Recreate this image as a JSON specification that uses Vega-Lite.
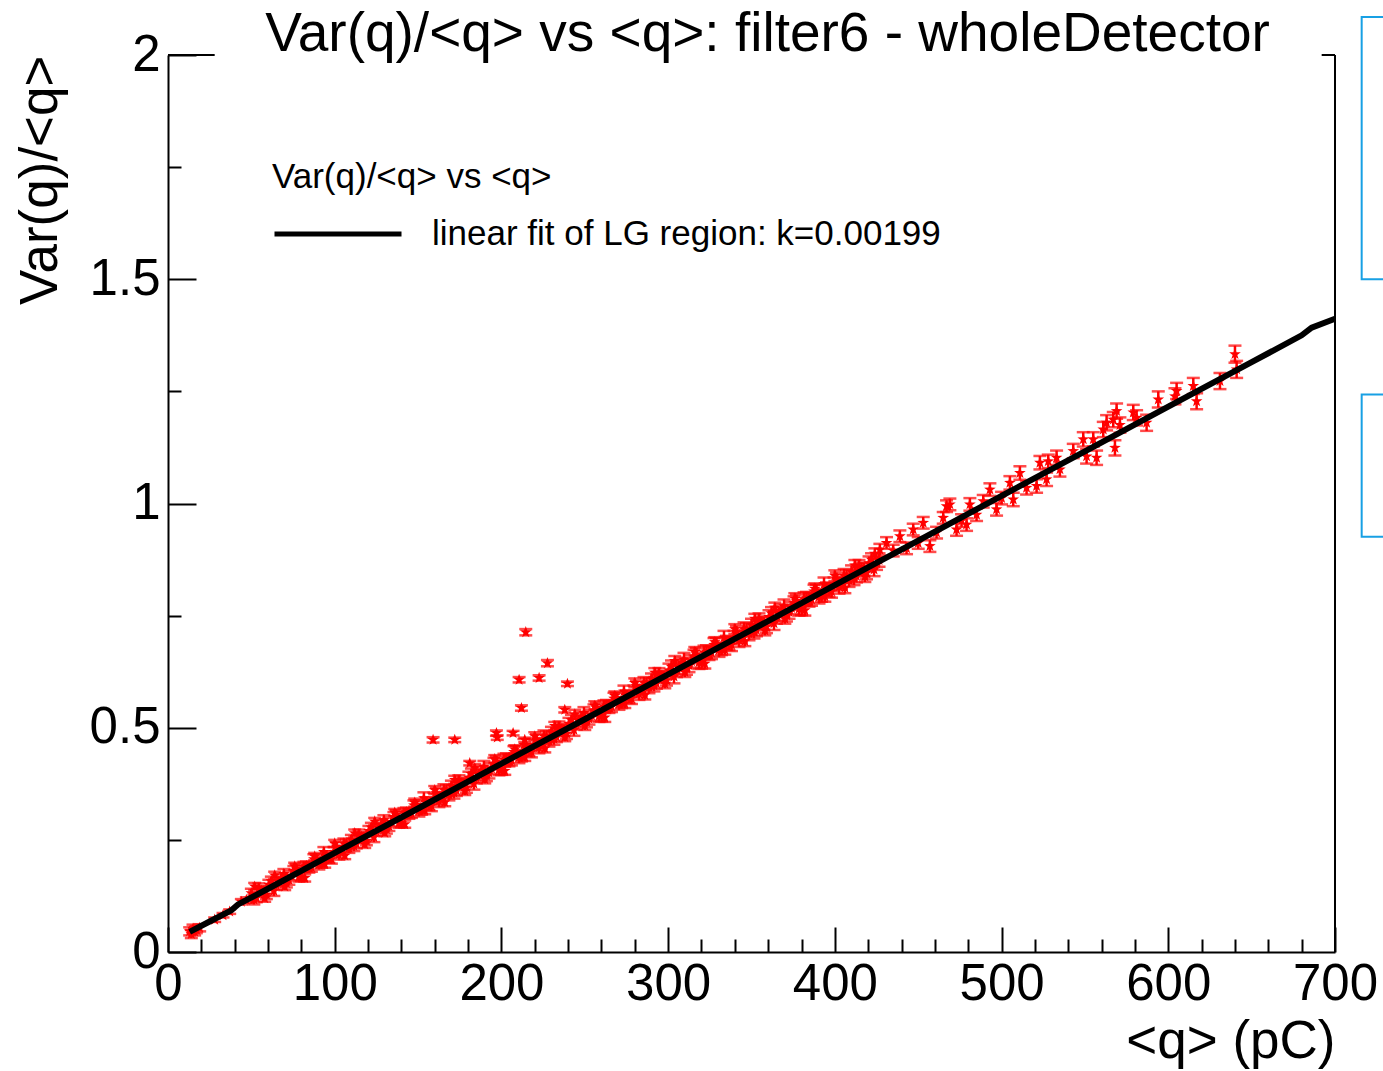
{
  "$schema": "https://vega.github.io/schema/vega-lite/v6.json",
  "width": 1167,
  "height": 897,
  "autosize": {"type": "none"},
  "padding": {"left": 168, "top": 55, "right": 48, "bottom": 119},
  "background": "white",
  "config": {"view": {"stroke": null}, "font": "Liberation Sans"},
  "title": {"text": "Var(q)/<q> vs <q>: filter6 - wholeDetector", "frame": "group", "fontSize": 55, "fontWeight": "normal", "color": "black", "anchor": "middle", "dx": 16, "baseline": "alphabetic", "offset": -90},
  "resolve": {"axis": {"x": "independent", "y": "independent"}},
  "datasets": {
    "pts": [
      {"q":13,"v":0.046,"e":0.009},{"q":14,"v":0.040,"e":0.009},{"q":15,"v":0.052,"e":0.009},{"q":16,"v":0.045,"e":0.008},{"q":17,"v":0.050,"e":0.008},{"q":19,"v":0.054,"e":0.008},
      {"q":28,"v":0.072,"e":0.005},{"q":33,"v":0.082,"e":0.005},{"q":37,"v":0.090,"e":0.005},{"q":44,"v":0.112,"e":0.006},{"q":47,"v":0.116,"e":0.006},
      {"q":50,"v":0.131,"e":0.010},{"q":53,"v":0.121,"e":0.010},{"q":56,"v":0.137,"e":0.010},{"q":59,"v":0.128,"e":0.010},{"q":62,"v":0.158,"e":0.010},{"q":65,"v":0.149,"e":0.010},{"q":68,"v":0.164,"e":0.010},{"q":71,"v":0.154,"e":0.010},{"q":74,"v":0.170,"e":0.010},{"q":77,"v":0.186,"e":0.010},{"q":80,"v":0.168,"e":0.010},{"q":83,"v":0.192,"e":0.010},{"q":86,"v":0.189,"e":0.010},{"q":89,"v":0.208,"e":0.010},{"q":92,"v":0.198,"e":0.010},{"q":95,"v":0.213,"e":0.010},{"q":98,"v":0.207,"e":0.010},
      {"q":101,"v":0.235,"e":0.010},{"q":104,"v":0.226,"e":0.010},{"q":107,"v":0.241,"e":0.010},{"q":110,"v":0.251,"e":0.010},{"q":113,"v":0.241,"e":0.010},{"q":116,"v":0.257,"e":0.010},{"q":119,"v":0.248,"e":0.010},{"q":122,"v":0.278,"e":0.010},{"q":125,"v":0.269,"e":0.010},{"q":128,"v":0.284,"e":0.010},{"q":131,"v":0.274,"e":0.010},{"q":134,"v":0.290,"e":0.010},{"q":137,"v":0.306,"e":0.010},{"q":140,"v":0.288,"e":0.010},{"q":143,"v":0.312,"e":0.010},{"q":146,"v":0.309,"e":0.010},{"q":149,"v":0.328,"e":0.010},
      {"q":152,"v":0.318,"e":0.012},{"q":155,"v":0.333,"e":0.012},{"q":158,"v":0.326,"e":0.012},{"q":161,"v":0.354,"e":0.012},{"q":164,"v":0.345,"e":0.012},{"q":167,"v":0.360,"e":0.012},{"q":170,"v":0.370,"e":0.012},{"q":173,"v":0.360,"e":0.012},{"q":176,"v":0.376,"e":0.012},{"q":179,"v":0.367,"e":0.012},{"q":182,"v":0.397,"e":0.012},{"q":185,"v":0.388,"e":0.012},{"q":188,"v":0.403,"e":0.012},{"q":191,"v":0.393,"e":0.012},{"q":194,"v":0.409,"e":0.012},{"q":197,"v":0.425,"e":0.012},{"q":200,"v":0.407,"e":0.012},
      {"q":203,"v":0.431,"e":0.012},{"q":206,"v":0.428,"e":0.012},{"q":209,"v":0.447,"e":0.012},{"q":212,"v":0.437,"e":0.012},{"q":215,"v":0.452,"e":0.012},{"q":218,"v":0.446,"e":0.012},{"q":221,"v":0.474,"e":0.012},{"q":224,"v":0.465,"e":0.012},{"q":227,"v":0.480,"e":0.012},{"q":230,"v":0.490,"e":0.012},{"q":233,"v":0.480,"e":0.012},{"q":236,"v":0.496,"e":0.012},{"q":239,"v":0.487,"e":0.012},{"q":242,"v":0.517,"e":0.012},{"q":245,"v":0.508,"e":0.012},{"q":248,"v":0.523,"e":0.012},
      {"q":251,"v":0.513,"e":0.012},{"q":254,"v":0.528,"e":0.012},{"q":257,"v":0.544,"e":0.012},{"q":260,"v":0.526,"e":0.012},{"q":263,"v":0.550,"e":0.012},{"q":266,"v":0.547,"e":0.012},{"q":269,"v":0.566,"e":0.012},{"q":272,"v":0.556,"e":0.012},{"q":275,"v":0.571,"e":0.012},{"q":278,"v":0.565,"e":0.012},{"q":281,"v":0.593,"e":0.012},{"q":284,"v":0.584,"e":0.012},{"q":287,"v":0.599,"e":0.012},{"q":290,"v":0.609,"e":0.012},{"q":293,"v":0.599,"e":0.012},{"q":296,"v":0.615,"e":0.012},{"q":299,"v":0.606,"e":0.012},
      {"q":302,"v":0.636,"e":0.014},{"q":305,"v":0.627,"e":0.014},{"q":308,"v":0.642,"e":0.014},{"q":311,"v":0.632,"e":0.014},{"q":314,"v":0.648,"e":0.014},{"q":317,"v":0.664,"e":0.014},{"q":320,"v":0.646,"e":0.014},{"q":323,"v":0.670,"e":0.014},{"q":326,"v":0.667,"e":0.014},{"q":329,"v":0.686,"e":0.014},{"q":332,"v":0.676,"e":0.014},{"q":335,"v":0.691,"e":0.014},{"q":338,"v":0.685,"e":0.014},{"q":341,"v":0.713,"e":0.014},{"q":344,"v":0.704,"e":0.014},{"q":347,"v":0.719,"e":0.014},{"q":350,"v":0.729,"e":0.014},
      {"q":353,"v":0.718,"e":0.014},{"q":356,"v":0.734,"e":0.014},{"q":359,"v":0.725,"e":0.014},{"q":362,"v":0.755,"e":0.014},{"q":365,"v":0.746,"e":0.014},{"q":368,"v":0.761,"e":0.014},{"q":371,"v":0.751,"e":0.014},{"q":374,"v":0.767,"e":0.014},{"q":377,"v":0.783,"e":0.014},{"q":380,"v":0.765,"e":0.014},{"q":383,"v":0.789,"e":0.014},{"q":386,"v":0.786,"e":0.014},{"q":389,"v":0.805,"e":0.014},{"q":392,"v":0.795,"e":0.014},{"q":395,"v":0.810,"e":0.014},{"q":398,"v":0.804,"e":0.014},
      {"q":401,"v":0.832,"e":0.014},{"q":404,"v":0.823,"e":0.014},{"q":407,"v":0.838,"e":0.014},{"q":410,"v":0.848,"e":0.014},{"q":413,"v":0.838,"e":0.014},{"q":416,"v":0.854,"e":0.014},{"q":419,"v":0.845,"e":0.014},{"q":422,"v":0.875,"e":0.014},{"q":425,"v":0.866,"e":0.014},
      {"q":51.5,"v":0.117,"e":0.011},{"q":54.5,"v":0.142,"e":0.011},{"q":57.5,"v":0.135,"e":0.011},{"q":60.5,"v":0.150,"e":0.011},{"q":63.5,"v":0.136,"e":0.011},{"q":66.5,"v":0.157,"e":0.011},{"q":69.5,"v":0.174,"e":0.011},{"q":72.5,"v":0.161,"e":0.011},{"q":75.5,"v":0.181,"e":0.011},{"q":78.5,"v":0.168,"e":0.011},{"q":81.5,"v":0.190,"e":0.011},{"q":84.5,"v":0.188,"e":0.011},{"q":87.5,"v":0.207,"e":0.011},{"q":90.5,"v":0.195,"e":0.011},{"q":93.5,"v":0.223,"e":0.011},{"q":96.5,"v":0.210,"e":0.011},{"q":99.5,"v":0.223,"e":0.011},
      {"q":102.5,"v":0.217,"e":0.011},{"q":105.5,"v":0.242,"e":0.011},{"q":108.5,"v":0.232,"e":0.011},{"q":111.5,"v":0.236,"e":0.011},{"q":114.5,"v":0.262,"e":0.011},{"q":117.5,"v":0.255,"e":0.011},{"q":120.5,"v":0.270,"e":0.011},{"q":123.5,"v":0.256,"e":0.011},{"q":126.5,"v":0.277,"e":0.011},{"q":129.5,"v":0.294,"e":0.011},{"q":132.5,"v":0.281,"e":0.011},{"q":135.5,"v":0.301,"e":0.011},{"q":138.5,"v":0.288,"e":0.011},{"q":141.5,"v":0.310,"e":0.011},{"q":144.5,"v":0.308,"e":0.011},{"q":147.5,"v":0.327,"e":0.011},
      {"q":150.5,"v":0.315,"e":0.013},{"q":153.5,"v":0.343,"e":0.013},{"q":156.5,"v":0.329,"e":0.013},{"q":159.5,"v":0.342,"e":0.013},{"q":162.5,"v":0.336,"e":0.013},{"q":165.5,"v":0.361,"e":0.013},{"q":168.5,"v":0.351,"e":0.013},{"q":171.5,"v":0.355,"e":0.013},{"q":174.5,"v":0.381,"e":0.013},{"q":177.5,"v":0.374,"e":0.013},{"q":180.5,"v":0.389,"e":0.013},{"q":183.5,"v":0.375,"e":0.013},{"q":186.5,"v":0.396,"e":0.013},{"q":189.5,"v":0.413,"e":0.013},{"q":192.5,"v":0.400,"e":0.013},{"q":195.5,"v":0.420,"e":0.013},{"q":198.5,"v":0.407,"e":0.013},
      {"q":201.5,"v":0.429,"e":0.013},{"q":204.5,"v":0.427,"e":0.013},{"q":207.5,"v":0.446,"e":0.013},{"q":210.5,"v":0.434,"e":0.013},{"q":213.5,"v":0.462,"e":0.013},{"q":216.5,"v":0.449,"e":0.013},{"q":219.5,"v":0.462,"e":0.013},{"q":222.5,"v":0.456,"e":0.013},{"q":225.5,"v":0.481,"e":0.013},{"q":228.5,"v":0.471,"e":0.013},{"q":231.5,"v":0.475,"e":0.013},{"q":234.5,"v":0.501,"e":0.013},{"q":237.5,"v":0.494,"e":0.013},{"q":240.5,"v":0.509,"e":0.013},{"q":243.5,"v":0.495,"e":0.013},{"q":246.5,"v":0.516,"e":0.013},{"q":249.5,"v":0.533,"e":0.013},
      {"q":252.5,"v":0.520,"e":0.013},{"q":255.5,"v":0.539,"e":0.013},{"q":258.5,"v":0.526,"e":0.013},{"q":261.5,"v":0.548,"e":0.013},{"q":264.5,"v":0.546,"e":0.013},{"q":267.5,"v":0.565,"e":0.013},{"q":270.5,"v":0.553,"e":0.013},{"q":273.5,"v":0.581,"e":0.013},{"q":276.5,"v":0.568,"e":0.013},{"q":279.5,"v":0.581,"e":0.013},{"q":282.5,"v":0.575,"e":0.013},{"q":285.5,"v":0.600,"e":0.013},{"q":288.5,"v":0.590,"e":0.013},{"q":291.5,"v":0.594,"e":0.013},{"q":294.5,"v":0.620,"e":0.013},{"q":297.5,"v":0.613,"e":0.013},
      {"q":300.5,"v":0.628,"e":0.015},{"q":303.5,"v":0.614,"e":0.015},{"q":306.5,"v":0.635,"e":0.015},{"q":309.5,"v":0.652,"e":0.015},{"q":312.5,"v":0.639,"e":0.015},{"q":315.5,"v":0.659,"e":0.015},{"q":318.5,"v":0.646,"e":0.015},{"q":321.5,"v":0.668,"e":0.015},{"q":324.5,"v":0.666,"e":0.015},{"q":327.5,"v":0.685,"e":0.015},{"q":330.5,"v":0.673,"e":0.015},{"q":333.5,"v":0.701,"e":0.015},{"q":336.5,"v":0.688,"e":0.015},{"q":339.5,"v":0.701,"e":0.015},{"q":342.5,"v":0.695,"e":0.015},{"q":345.5,"v":0.720,"e":0.015},{"q":348.5,"v":0.710,"e":0.015},
      {"q":351.5,"v":0.714,"e":0.015},{"q":354.5,"v":0.740,"e":0.015},{"q":357.5,"v":0.732,"e":0.015},{"q":360.5,"v":0.747,"e":0.015},{"q":363.5,"v":0.733,"e":0.015},{"q":366.5,"v":0.754,"e":0.015},{"q":369.5,"v":0.771,"e":0.015},{"q":372.5,"v":0.758,"e":0.015},{"q":375.5,"v":0.778,"e":0.015},{"q":378.5,"v":0.765,"e":0.015},{"q":381.5,"v":0.787,"e":0.015},{"q":384.5,"v":0.785,"e":0.015},{"q":387.5,"v":0.804,"e":0.015},{"q":390.5,"v":0.792,"e":0.015},{"q":393.5,"v":0.820,"e":0.015},{"q":396.5,"v":0.807,"e":0.015},{"q":399.5,"v":0.820,"e":0.015},
      {"q":402.5,"v":0.814,"e":0.015},{"q":405.5,"v":0.839,"e":0.015},{"q":408.5,"v":0.829,"e":0.015},{"q":411.5,"v":0.833,"e":0.015},{"q":414.5,"v":0.859,"e":0.015},{"q":417.5,"v":0.852,"e":0.015},{"q":420.5,"v":0.867,"e":0.015},{"q":423.5,"v":0.853,"e":0.015},{"q":426.5,"v":0.874,"e":0.015},
      {"q":52,"v":0.146,"e":0.008},{"q":58,"v":0.120,"e":0.008},{"q":64,"v":0.171,"e":0.008},{"q":70,"v":0.146,"e":0.008},{"q":76,"v":0.191,"e":0.008},{"q":82,"v":0.165,"e":0.008},{"q":88,"v":0.213,"e":0.008},{"q":94,"v":0.196,"e":0.008},{"q":100,"v":0.242,"e":0.008},{"q":106,"v":0.215,"e":0.008},{"q":112,"v":0.265,"e":0.008},{"q":118,"v":0.240,"e":0.008},{"q":124,"v":0.291,"e":0.008},{"q":130,"v":0.266,"e":0.008},{"q":136,"v":0.311,"e":0.008},{"q":142,"v":0.285,"e":0.008},
      {"q":148,"v":0.333,"e":0.009},{"q":154,"v":0.316,"e":0.009},{"q":160,"v":0.361,"e":0.009},{"q":166,"v":0.334,"e":0.009},{"q":172,"v":0.384,"e":0.009},{"q":178,"v":0.359,"e":0.009},{"q":184,"v":0.410,"e":0.009},{"q":190,"v":0.385,"e":0.009},{"q":196,"v":0.430,"e":0.009},{"q":202,"v":0.404,"e":0.009},{"q":208,"v":0.452,"e":0.009},{"q":214,"v":0.435,"e":0.009},{"q":220,"v":0.481,"e":0.009},{"q":226,"v":0.454,"e":0.009},{"q":232,"v":0.504,"e":0.009},{"q":238,"v":0.479,"e":0.009},
      {"q":244,"v":0.530,"e":0.010},{"q":250,"v":0.505,"e":0.010},{"q":256,"v":0.549,"e":0.010},{"q":262,"v":0.523,"e":0.010},{"q":268,"v":0.571,"e":0.010},{"q":274,"v":0.554,"e":0.010},{"q":280,"v":0.600,"e":0.010},{"q":286,"v":0.573,"e":0.010},{"q":292,"v":0.623,"e":0.010},{"q":298,"v":0.598,"e":0.010},{"q":304,"v":0.649,"e":0.011},{"q":310,"v":0.624,"e":0.011},{"q":316,"v":0.669,"e":0.011},{"q":322,"v":0.643,"e":0.011},{"q":328,"v":0.691,"e":0.011},{"q":334,"v":0.674,"e":0.011},
      {"q":340,"v":0.720,"e":0.011},{"q":346,"v":0.693,"e":0.011},{"q":352,"v":0.743,"e":0.011},{"q":358,"v":0.717,"e":0.011},{"q":364,"v":0.768,"e":0.011},{"q":370,"v":0.743,"e":0.011},{"q":376,"v":0.788,"e":0.012},{"q":382,"v":0.762,"e":0.012},{"q":388,"v":0.810,"e":0.012},{"q":394,"v":0.793,"e":0.012},{"q":400,"v":0.839,"e":0.012},{"q":406,"v":0.812,"e":0.012},{"q":412,"v":0.862,"e":0.012},{"q":418,"v":0.837,"e":0.012},{"q":424,"v":0.888,"e":0.012},
      {"q":427,"v":0.897,"e":0.013},{"q":431,"v":0.912,"e":0.013},{"q":435,"v":0.895,"e":0.013},{"q":439,"v":0.927,"e":0.013},{"q":443,"v":0.900,"e":0.013},{"q":447,"v":0.942,"e":0.013},{"q":450,"v":0.912,"e":0.013},{"q":453,"v":0.957,"e":0.013},{"q":457,"v":0.905,"e":0.013},{"q":461,"v":0.935,"e":0.013},{"q":465,"v":0.968,"e":0.013},{"q":467,"v":0.994,"e":0.013},{"q":469,"v":0.998,"e":0.013},{"q":473,"v":0.942,"e":0.014},{"q":476,"v":0.962,"e":0.014},{"q":479,"v":0.953,"e":0.014},{"q":481,"v":0.998,"e":0.014},{"q":485,"v":0.975,"e":0.014},{"q":489,"v":1.005,"e":0.014},{"q":493,"v":1.031,"e":0.014},{"q":497,"v":0.987,"e":0.014},{"q":500,"v":1.012,"e":0.014},
      {"q":505,"v":1.046,"e":0.015},{"q":507,"v":1.009,"e":0.015},{"q":511,"v":1.068,"e":0.015},{"q":515,"v":1.035,"e":0.015},{"q":521,"v":1.039,"e":0.015},{"q":523,"v":1.091,"e":0.015},{"q":527,"v":1.054,"e":0.015},{"q":528,"v":1.094,"e":0.015},{"q":533,"v":1.102,"e":0.016},{"q":535,"v":1.076,"e":0.016},{"q":543,"v":1.117,"e":0.016},{"q":549,"v":1.143,"e":0.016},{"q":551,"v":1.105,"e":0.016},{"q":555,"v":1.143,"e":0.016},{"q":557,"v":1.102,"e":0.016},{"q":561,"v":1.165,"e":0.017},{"q":563,"v":1.180,"e":0.017},{"q":567,"v":1.187,"e":0.017},{"q":568,"v":1.124,"e":0.017},{"q":569,"v":1.206,"e":0.017},{"q":571,"v":1.175,"e":0.017},{"q":579,"v":1.203,"e":0.017},{"q":581,"v":1.191,"e":0.017},{"q":587,"v":1.180,"e":0.018},{"q":594,"v":1.232,"e":0.018},{"q":604,"v":1.239,"e":0.018},{"q":605,"v":1.251,"e":0.018},{"q":615,"v":1.262,"e":0.018},{"q":617,"v":1.228,"e":0.018},{"q":631,"v":1.273,"e":0.018},{"q":640,"v":1.333,"e":0.019},{"q":641,"v":1.299,"e":0.019},
      {"q":159,"v":0.473,"e":0.006},{"q":172,"v":0.473,"e":0.005},{"q":181,"v":0.421,"e":0.005},{"q":197,"v":0.488,"e":0.006},{"q":197.5,"v":0.478,"e":0.005},{"q":207,"v":0.488,"e":0.005},{"q":210.6,"v":0.607,"e":0.006},{"q":212,"v":0.544,"e":0.006},{"q":214.6,"v":0.713,"e":0.007},{"q":214,"v":0.473,"e":0.005},{"q":222.6,"v":0.611,"e":0.006},{"q":227.6,"v":0.644,"e":0.007},{"q":239.6,"v":0.598,"e":0.005},{"q":238,"v":0.540,"e":0.006}
    ],
    "fit": [
      {"q":13,"v":0.045},{"q":25,"v":0.068},{"q":38,"v":0.093},{"q":42,"v":0.106},{"q":60,"v":0.141},{"q":100,"v":0.221},{"q":150,"v":0.320},{"q":200,"v":0.420},{"q":250,"v":0.519},{"q":300,"v":0.619},{"q":350,"v":0.718},{"q":400,"v":0.818},{"q":450,"v":0.917},{"q":500,"v":1.017},{"q":550,"v":1.116},{"q":600,"v":1.216},{"q":650,"v":1.315},{"q":680,"v":1.375},{"q":686,"v":1.392},{"q":700,"v":1.412}
    ],
    "boxes": [
      {"q":716,"q2":780,"v":2.085,"v2":1.5},
      {"q":716,"q2":780,"v":1.243,"v2":0.926}
    ],
    "frame": [
      {"q":700,"q2":700,"v":0,"v2":2},
      {"q":0,"q2":28,"v":2,"v2":2},
      {"q":692,"q2":700,"v":2,"v2":2}
    ]
  },
  "layer": [
    {
      "data": {"name": "boxes"},
      "mark": {"type": "rect", "filled": false, "color": "#18a0e4", "strokeWidth": 2, "clip": false},
      "encoding": {
        "x": {"field": "q", "type": "quantitative", "scale": {"domain": [0, 700], "nice": false, "zero": false}, "axis": null},
        "x2": {"field": "q2"},
        "y": {"field": "v", "type": "quantitative", "scale": {"domain": [0, 2], "nice": false}, "axis": null},
        "y2": {"field": "v2"}
      }
    },
    {
      "data": {"name": "frame"},
      "mark": {"type": "rule", "color": "black", "strokeWidth": 2, "clip": false},
      "encoding": {
        "x": {
          "field": "q", "type": "quantitative", "scale": {"domain": [0, 700], "nice": false, "zero": false},
          "axis": {
            "orient": "bottom", "values": [0,100,200,300,400,500,600,700],
            "tickSize": -25, "labelFontSize": 51, "labelPadding": 32, "labelFlush": false, "labelOverlap": false, "labelColor": "black",
            "domainColor": "black", "domainWidth": 2, "tickColor": "black", "tickWidth": 2, "grid": false,
            "title": "<q> (pC)", "titleFontSize": 53, "titleFontWeight": "normal", "titleColor": "black", "titleAnchor": "end", "titlePadding": 6
          }
        },
        "x2": {"field": "q2"},
        "y": {
          "field": "v", "type": "quantitative", "scale": {"domain": [0, 2], "nice": false},
          "axis": {
            "orient": "left", "values": [0,0.5,1,1.5,2], "labelExpr": "format(datum.value, '~g')",
            "tickSize": -28, "labelFontSize": 51, "labelPadding": 36, "labelFlush": false, "labelOverlap": false, "labelColor": "black",
            "domainColor": "black", "domainWidth": 2, "tickColor": "black", "tickWidth": 2, "grid": false,
            "title": "Var(q)/<q>", "titleFontSize": 53, "titleFontWeight": "normal", "titleColor": "black", "titleAnchor": "end", "titlePadding": 22
          }
        },
        "y2": {"field": "v2"}
      }
    },
    {
      "data": {"name": "pts"},
      "mark": {"type": "errorbar", "color": "red", "thickness": 2.5, "ticks": {"size": 13, "thickness": 2.5, "color": "red"}},
      "encoding": {
        "x": {"field": "q", "type": "quantitative", "scale": {"domain": [0, 700], "nice": false, "zero": false}, "axis": null},
        "y": {"field": "v", "type": "quantitative", "scale": {"domain": [0, 2], "nice": false}, "axis": null},
        "yError": {"field": "e"}
      }
    },
    {
      "data": {"name": "pts"},
      "mark": {"type": "point", "shape": "M0,-1L0.24,-0.33L0.95,-0.31L0.38,0.12L0.59,0.81L0,0.4L-0.59,0.81L-0.38,0.12L-0.95,-0.31L-0.24,-0.33Z", "filled": true, "color": "red", "size": 150, "opacity": 1},
      "encoding": {
        "x": {
          "field": "q", "type": "quantitative", "scale": {"domain": [0, 700], "nice": false, "zero": false},
          "axis": {
            "orient": "bottom", "values": [20,40,60,80,120,140,160,180,220,240,260,280,320,340,360,380,420,440,460,480,520,540,560,580,620,640,660,680],
            "tickSize": -13, "labels": false, "domain": false, "tickColor": "black", "tickWidth": 2, "grid": false, "title": null
          }
        },
        "y": {
          "field": "v", "type": "quantitative", "scale": {"domain": [0, 2], "nice": false},
          "axis": {
            "orient": "left", "values": [0.25,0.75,1.25,1.75],
            "tickSize": -13, "labels": false, "domain": false, "tickColor": "black", "tickWidth": 2, "grid": false, "title": null
          }
        }
      }
    },
    {
      "data": {"name": "fit"},
      "mark": {"type": "line", "strokeWidth": 6, "clip": false},
      "encoding": {
        "x": {"field": "q", "type": "quantitative", "scale": {"domain": [0, 700], "nice": false, "zero": false}, "axis": null},
        "y": {"field": "v", "type": "quantitative", "scale": {"domain": [0, 2], "nice": false}, "axis": null},
        "stroke": {
          "datum": "linear fit of LG region: k=0.00199", "type": "nominal",
          "scale": {"range": ["black"]},
          "legend": {
            "orient": "none", "legendX": 104, "legendY": 105, "padding": 0,
            "title": "Var(q)/<q> vs <q>", "titleFontSize": 35, "titleFontWeight": "normal", "titleColor": "black", "titleLimit": 2000, "titlePadding": -27,
            "labelFontSize": 35, "labelColor": "black", "labelLimit": 2000, "labelOffset": 28,
            "symbolType": "stroke", "symbolSize": 16129, "symbolStrokeWidth": 5, "symbolStrokeColor": "black"
          }
        }
      }
    }
  ]
}
